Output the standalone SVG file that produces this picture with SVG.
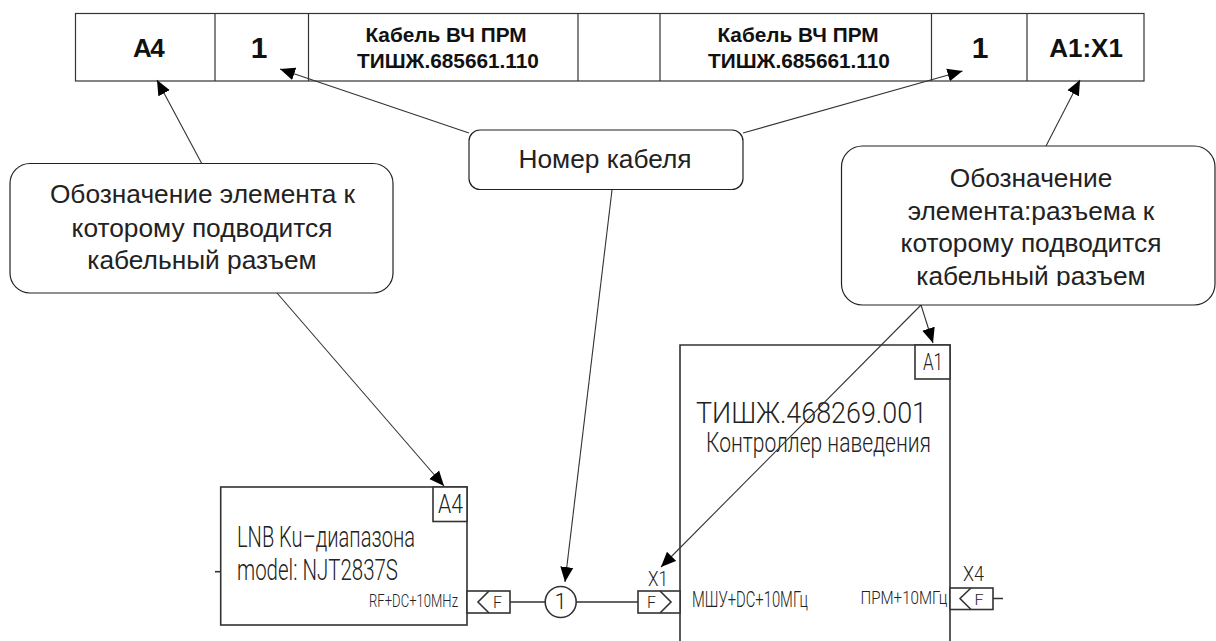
<svg xmlns="http://www.w3.org/2000/svg" width="1216" height="641" viewBox="0 0 1216 641">
<style>
.tb{fill:#fff;stroke:#333;stroke-width:1.2}
.cal{fill:#fff;stroke:#222;stroke-width:1.2}
.lead{fill:none;stroke:#333;stroke-width:1.1;marker-end:url(#ah)}
.dw{fill:#fff;stroke:#333;stroke-width:1.6}
.wire{fill:none;stroke:#333;stroke-width:1.6}
text{font-family:"Liberation Sans",Arial,sans-serif;fill:#111;text-anchor:middle}
.b{font-weight:bold}
.c{font-size:26.3px;fill:#222}
.g{font-family:"Roboto","Liberation Sans",sans-serif;font-weight:300;fill:#222}
.s{text-anchor:start}
</style>
<defs>
<marker id="ah" markerUnits="userSpaceOnUse" markerWidth="16" markerHeight="14" viewBox="0 0 16 14" refX="15" refY="7" orient="auto"><path d="M0 0.5L15 7L0 13.5Z" fill="#000"/></marker>
<clipPath id="clipR"><rect x="842" y="147" width="372" height="139"/></clipPath>
</defs>
<rect width="1216" height="641" fill="#fff"/>
<g id="table">
<rect class="tb" x="75.5" y="13.5" width="1068.5" height="67.5"/>
<path class="wire" style="stroke-width:1.2" d="M215 13.5V81M308.5 13.5V81M578 13.5V81M660 13.5V81M931.5 13.5V81M1027 13.5V81"/>
<text class="b" x="148" y="57" font-size="26" letter-spacing="-1.5">А4</text>
<text class="b" x="259" y="58" font-size="30">1</text>
<text class="b" x="446" y="42" font-size="20.8">Кабель ВЧ ПРМ</text>
<text class="b" x="448" y="67.5" font-size="20.8">ТИШЖ.685661.110</text>
<text class="b" x="798" y="42" font-size="20.8">Кабель ВЧ ПРМ</text>
<text class="b" x="799" y="67.5" font-size="20.8">ТИШЖ.685661.110</text>
<text class="b" x="980" y="58" font-size="30">1</text>
<text class="b" x="1086" y="57" font-size="26">А1:Х1</text>
</g>
<g id="node-a4">
<rect class="dw" x="220.7" y="487" width="246.3" height="138"/>
<rect class="dw" x="433" y="487" width="34" height="34.5"/>
<text class="g s" x="438" y="512.7" font-size="25" textLength="25" lengthAdjust="spacingAndGlyphs">A4</text>
<text class="g s" x="237" y="546.5" font-size="29" textLength="178" lengthAdjust="spacingAndGlyphs">LNB Ku–диапазона</text>
<text class="g s" x="237" y="580" font-size="29" textLength="161" lengthAdjust="spacingAndGlyphs">model: NJT2837S</text>
<text class="g s" x="369" y="606.7" font-size="18" textLength="89" lengthAdjust="spacingAndGlyphs">RF+DC+10MHz</text>
<path class="wire" d="M215 571.7H221"/>
</g>
<g id="conn-a4-f">
<rect class="dw" x="467" y="591" width="43" height="22"/>
<path class="wire" d="M489 591L478 602L489 613"/>
<text class="g" x="497.5" y="608" font-size="16" textLength="9" lengthAdjust="spacingAndGlyphs">F</text>
</g>
<g id="cable-1">
<path class="wire" d="M510 602H545M576 602H638"/>
<circle class="dw" cx="560.7" cy="602" r="15.5"/>
<text class="g" x="560.7" y="609" font-size="22">1</text>
</g>
<g id="node-a1">
<path class="dw" d="M680 641V345H950V641"/>
<rect class="dw" x="915" y="345" width="35" height="34"/>
<text class="g s" x="923" y="370" font-size="24" textLength="20" lengthAdjust="spacingAndGlyphs">A1</text>
<text class="g s" x="696" y="422.5" font-size="30" textLength="231" lengthAdjust="spacingAndGlyphs">ТИШЖ.468269.001</text>
<text class="g s" x="706" y="452" font-size="27" textLength="225" lengthAdjust="spacingAndGlyphs">Контроллер наведения</text>
<text class="g s" x="692" y="606.7" font-size="22" textLength="116" lengthAdjust="spacingAndGlyphs">МШУ+DC+10МГц</text>
<text class="g s" x="860.5" y="604" font-size="19" textLength="87" lengthAdjust="spacingAndGlyphs">ПРМ+10МГц</text>
</g>
<g id="conn-x1">
<rect class="dw" x="638" y="591" width="42" height="22"/>
<path class="wire" d="M660 591L671 602L660 613"/>
<text class="g s" x="647" y="608" font-size="16" textLength="9" lengthAdjust="spacingAndGlyphs">F</text>
<text class="g s" x="648" y="586" font-size="20" textLength="20" lengthAdjust="spacingAndGlyphs">X1</text>
</g>
<g id="conn-x4">
<rect class="dw" x="950" y="588" width="43" height="21.5"/>
<path class="wire" d="M971 588L960 598.5L971 609.5M993 598.5H1003"/>
<text class="g s" x="974.5" y="605" font-size="15.5" textLength="9" lengthAdjust="spacingAndGlyphs">F</text>
<text class="g s" x="963" y="581" font-size="20" textLength="21" lengthAdjust="spacingAndGlyphs">X4</text>
</g>
<g id="connectors">
<path class="lead" d="M202 164L157 80"/>
<path class="lead" d="M469 133L280 69"/>
<path class="lead" d="M743 133L962.5 71"/>
<path class="lead" d="M1046 146L1080 80"/>
<path class="lead" d="M277 293L444 486"/>
<path class="lead" d="M612 190L565 582"/>
<path class="lead" d="M921 305L933 343"/>
<path class="lead" d="M921 305L661 567"/>
</g>
<g id="callout-element">
<rect class="cal" x="10" y="163.5" width="383" height="129.5" rx="20"/>
<text class="c" x="202.5" y="203">Обозначение элемента к</text>
<text class="c" x="202" y="236.5">которому подводится</text>
<text class="c" x="202" y="269">кабельный разъем</text>
</g>
<g id="callout-number">
<rect class="cal" x="469" y="130" width="274" height="59.5" rx="11"/>
<text class="c" x="605" y="167.5">Номер кабеля</text>
</g>
<g id="callout-connector">
<rect class="cal" x="841.5" y="146" width="373.5" height="159" rx="21"/>
<text class="c" x="1031" y="187">Обозначение</text>
<text class="c" x="1031" y="219.5">элемента:разъема к</text>
<text class="c" x="1031" y="252">которому подводится</text>
<text class="c" x="1031" y="285" clip-path="url(#clipR)">кабельный разъем</text>
</g>
</svg>
